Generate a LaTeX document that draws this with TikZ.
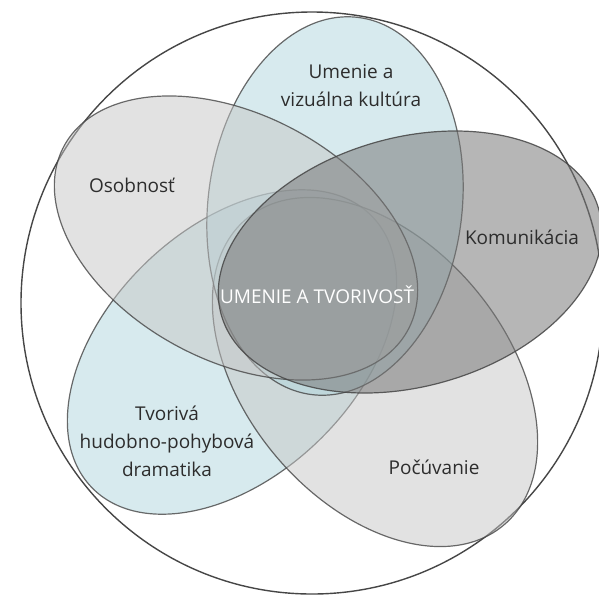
\documentclass[tikz,border=0pt]{standalone}
\usepackage{fontspec}
\setmainfont{Open Sans}
\definecolor{edgec}{RGB}{70,70,70}
\definecolor{tealf}{RGB}{176,214,221}
\definecolor{lgrayf}{RGB}{198,198,198}
\definecolor{dgrayf}{RGB}{120,120,120}
\definecolor{txtc}{RGB}{45,45,45}
\begin{document}
\begin{tikzpicture}[x=0.5pt,y=-0.5pt,
  petal/.style={draw=edgec, line width=0.6pt, draw opacity=0.8, fill opacity=0.5},
  darkpetal/.style={draw=edgec, line width=0.6pt, draw opacity=0.85, fill opacity=0.54},
  lbl/.style={font=\fontsize{9.5}{14}\selectfont, text=txtc, align=center},
  centerlbl/.style={font=\fontsize{9.5}{14}\selectfont, text=white, align=center}]
\useasboundingbox (0,0) rectangle (599,596);
\begin{scope}
\clip (0,0) rectangle (599,596);
% outer circle
\draw[edgec, line width=0.7pt] (312,303) circle [radius=291];
% Tvoriva
\path[petal, fill=tealf, shift={(232,352)}, rotate=44] (0,0) ellipse [x radius=195, y radius=124];
% Pocuvanie
\path[petal, fill=lgrayf, shift={(375,372)}, rotate=-50] (0,0) ellipse [x radius=200, y radius=130];
% Umenie a vizualna kultura
\path[petal, fill=tealf, shift={(335,206)}, rotate=-7] (0,0) ellipse [x radius=127, y radius=190];
% Osobnost
\path[petal, fill=lgrayf, shift={(236,238)}, rotate=-28] (0,0) ellipse [x radius=195, y radius=123];
% Komunikacia
\path[darkpetal, fill=dgrayf, shift={(410,262)}, rotate=15.6] (0,0) ellipse [x radius=196, y radius=124.5];
\end{scope}
\node[lbl] (osob) at (132,185) {Osobnosť};
\node[lbl] (umen) at (351,86) {Umenie a\\vizuálna kultúra};
\node[lbl] (komu) at (522,237) {Komunikácia};
\node[lbl] (tvor) at (167,441) {Tvorivá\\hudobno-pohybová\\dramatika};
\node[lbl] (pocu) at (434,467) {Počúvanie};
\node[centerlbl] (stred) at (317,295) {UMENIE A TVORIVOSŤ};
\end{tikzpicture}
\end{document}
